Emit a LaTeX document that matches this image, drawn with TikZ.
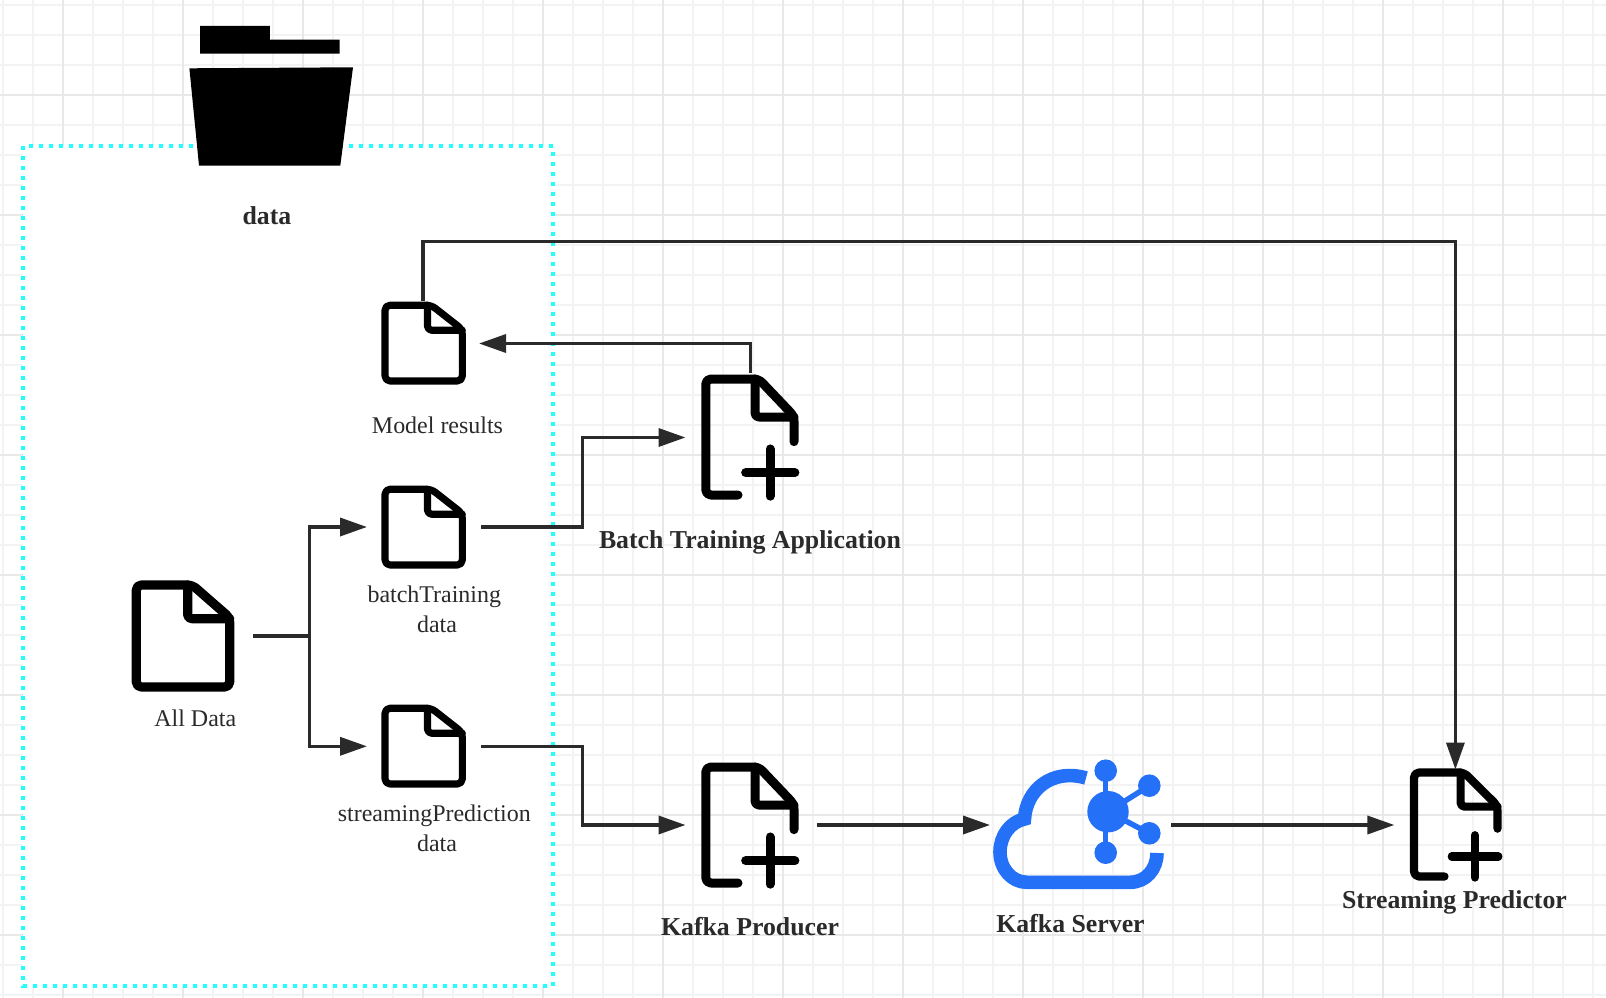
\documentclass[tikz,border=0pt]{standalone}
\usepackage{fontspec}
\setmainfont{Liberation Serif}
\usetikzlibrary{arrows.meta,calc}
\definecolor{gridminor}{HTML}{F3F3F3}
\definecolor{gridmajor}{HTML}{E8E8E8}
\definecolor{inkdark}{HTML}{2A2A2A}
\definecolor{dotcyan}{HTML}{1EFFFF}
\definecolor{cloudblue}{HTML}{2470F7}
\tikzset{
  anchorbox/.style={inner sep=0pt,outer sep=0pt,minimum width=#1pt},
  conn/.style={draw=inkdark,line width=3.5pt,line join=miter,-{Triangle[length=27pt,width=18pt]}},
  connplain/.style={draw=inkdark,line width=3.5pt},
  plainlabel/.style={text=inkdark,font=\fontsize{23.95}{30}\selectfont,align=center,inner sep=0pt,anchor=base},
  boldlabel/.style={text=inkdark,font=\fontsize{25.8}{30}\selectfont\bfseries,inner sep=0pt,anchor=base},
  icon/.style={draw=black,line cap=round,line join=round},
}
\newcommand{\docicon}[5]{%
  \begin{scope}[shift={(#1,#2)},x=#3pt,y=-#4pt,line width=#5pt]
    \draw[icon,fill=white,rounded corners=5pt] (0,1) -- (0,0) -- (.6,0) -- (1,.32) -- (1,1) -- cycle;
    \draw[icon,rounded corners=4pt] (.55,0) -- (.55,.33) -- (1,.33);
  \end{scope}}
\newcommand{\plusdocicon}[5]{%
  \begin{scope}[shift={(#1,#2)},x=#3pt,y=-#4pt,line width=#5pt]
    \draw[icon,rounded corners=5pt] (.365,1) -- (0,1) -- (0,0) -- (.6,0) -- (1,.32) -- (1,.54);
    \draw[icon,rounded corners=4pt] (.558,0) -- (.558,.328) -- (1,.328);
    \draw[icon] (.452,.808) -- (1.01,.808);
    \draw[icon] (.728,.603) -- (.728,1.01);
  \end{scope}}
\begin{document}
\begin{tikzpicture}[x=1pt,y=-1pt]
\useasboundingbox (0,0) rectangle (1606,998);
\fill[white] (0,0) rectangle (1606,998);
% grid
\foreach \k in {0,...,53} {\draw[gridminor,line width=2.3pt] ({3+30*\k},0) -- ({3+30*\k},998);}
\foreach \k in {0,...,33} {\draw[gridminor,line width=2.3pt] (0,{5+30*\k}) -- (1606,{5+30*\k});}
\foreach \k in {0,...,12} {\draw[gridmajor,line width=2.3pt] ({63+120*\k},0) -- ({63+120*\k},998);}
\foreach \k in {0,...,7} {\draw[gridmajor,line width=2.3pt] (0,{95+120*\k}) -- (1606,{95+120*\k});}
% dotted group box
\draw[dotcyan,fill=white,line width=4pt,dash pattern=on 4pt off 6pt] (23.4,146) rectangle (553,986);
% folder
\fill[black] (200,26) -- (269.8,26) -- (269.8,39.7) -- (339.5,39.7) -- (339.5,53.7) -- (200,53.7) -- cycle;
\fill[black] (189.4,68.3) -- (353,67.3) -- (340.3,165.7) -- (199,165.7) -- cycle;
\node[boldlabel] (lbdata) at (267,224.5) {data};
% anchor boxes (icon plus connector gap)
\node[anchorbox=116,minimum height=86pt] (model) at (421,343.5) {};
\node[anchorbox=114,minimum height=86pt] (batchdoc) at (424,527) {};
\node[anchorbox=114,minimum height=86pt] (streamdoc) at (424,746.3) {};
\node[anchorbox=140,minimum height=112pt] (alldoc) at (183,636) {};
\node[anchorbox=129.6,minimum height=129pt] (batchapp) at (750.3,437.5) {};
\node[anchorbox=131.5,minimum height=126pt] (producer) at (751.25,825) {};
\node[anchorbox=181,minimum height=130pt] (kserver) at (1080.5,825) {};
\node[anchorbox=122,minimum height=111pt] (predictor) at (1455.4,825) {};
\coordinate (busTop) at (1000,241.7);
\coordinate (busData) at (309.3,636);
\coordinate (busApp) at (582.4,500);
% icons
\docicon{385}{305.2}{77.3}{75.8}{7.1}
\docicon{385}{489.2}{77.3}{75.8}{7.1}
\docicon{385}{708.2}{77.3}{75.8}{7.1}
\docicon{136.3}{585}{93.4}{102}{9.2}
\plusdocicon{705.8}{379}{88.2}{116}{9}
\plusdocicon{705.8}{767}{88.2}{116}{9}
\plusdocicon{1414}{772.5}{83.5}{104}{8.2}
% cloud
\draw[cloudblue,line width=13.6pt,line cap=butt,line join=miter] (1086,778) .. controls (1052,768) and (1026,790) .. (1024.5,819)
  .. controls (1010,822) and (1000,836) .. (1000,852)
  .. controls (1000,869) and (1012,882.3) .. (1027,882.3) -- (1130,882.3)
  .. controls (1146,882.3) and (1157,869) .. (1157,853);
\fill[cloudblue] (1108,811.7) circle[radius=20.7];
\foreach \sx/\sy in {1105.7/770.7,1149.3/785.7,1149.3/833.3,1105.7/852.7} {
  \fill[cloudblue] (\sx,\sy) circle[radius=11.3];
}
\draw[cloudblue,line width=5.5pt] (1105.7,770.7) -- (1105.7,852.7);
\draw[cloudblue,line width=5.5pt] (1149.3,785.7) -- (1108,811.7) -- (1149.3,833.3);
% connectors
\draw[conn] (model.north) ++(2,0) |- (busTop) -| (predictor.north);
\draw[conn] (batchapp.north) |- (model.east);
\draw[conn] (batchdoc.east) -- (busApp |- batchdoc.east) -- (busApp |- batchapp.west) -- (batchapp.west);
\draw[conn] (streamdoc.east) -- (busApp |- streamdoc.east) -- (busApp |- producer.west) -- (producer.west);
\draw[connplain] (alldoc.east) -- (busData);
\draw[conn] (busData) |- (batchdoc.west);
\draw[conn] (busData) |- (streamdoc.west);
\draw[conn] (producer.east) -- (kserver.west);
\draw[conn] (kserver.east) -- (predictor.west);
% labels
\node[plainlabel] (lbmodel) at (437.5,433.8) {Model results};
\node[plainlabel] (lbbatch) at (437,632.7) {batchTraining\hspace*{5.4pt}\\data};
\node[plainlabel] (lbstream) at (437,851.7) {streamingPrediction\hspace*{5.4pt}\\data};
\node[plainlabel] (lball) at (195.3,726.3) {All Data};
\node[boldlabel] (lbapp) at (750,548.7) {Batch Training Application};
\node[boldlabel] (lbprod) at (750,935.3) {Kafka Producer};
\node[boldlabel] (lbserver) at (1070.5,932.5) {Kafka Server};
\node[boldlabel] (lbpred) at (1454.5,908.8) {Streaming Predictor};
\end{tikzpicture}
\end{document}
